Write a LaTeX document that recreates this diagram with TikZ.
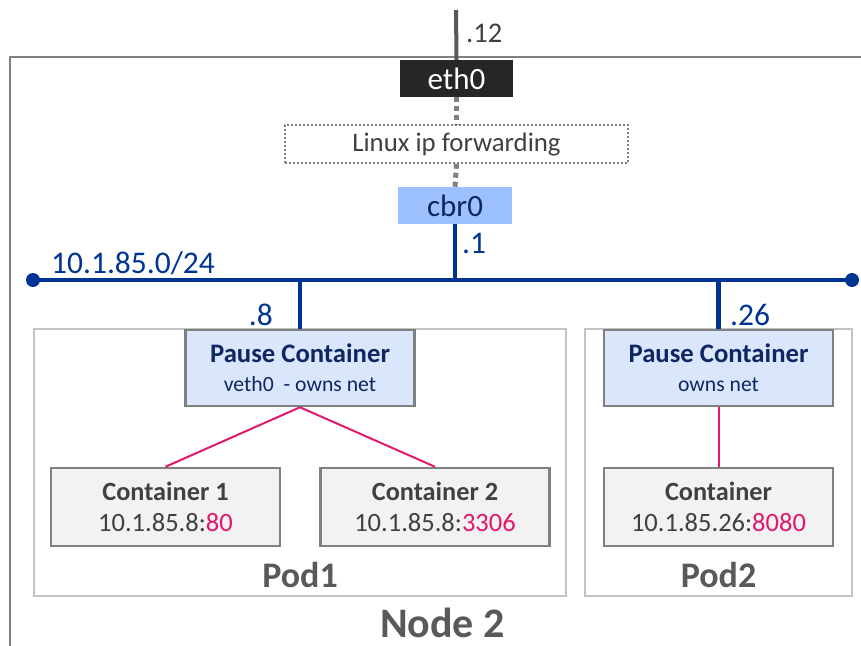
\documentclass[tikz,border=0pt]{standalone}
\usepackage{fontspec}
\setmainfont{Carlito}
\newcommand{\fsz}[1]{\fontsize{#1}{#1}\selectfont}
\newcommand{\port}[1]{\textcolor{portpink}{#1}}
\definecolor{netblue}{RGB}{0,52,148}
\definecolor{navytext}{RGB}{14,38,98}
\definecolor{portpink}{RGB}{226,24,110}
\definecolor{cbrfill}{RGB}{157,192,255}
\definecolor{pausefill}{RGB}{218,230,252}
\definecolor{boxgray}{RGB}{128,128,128}
\definecolor{podgray}{RGB}{195,195,195}
\definecolor{textgray}{RGB}{64,64,64}
\definecolor{ethblack}{RGB}{38,38,38}
\begin{document}
\begin{tikzpicture}[
    x=1pt, y=-1pt,
    every node/.style={inner sep=0pt, text=textgray},
    hostif/.style={rectangle, fill=ethblack, minimum width=113pt, minimum height=37pt, text=white, font=\fsz{31}},
    fwdbox/.style={rectangle, draw=gray, line width=1.5pt, dash pattern=on 2pt off 2pt, minimum width=343pt, minimum height=38pt, font=\fsz{26.8}},
    bridge/.style={rectangle, fill=cbrfill, minimum width=114pt, minimum height=37pt, text=navytext, font=\fsz{31}},
    pod/.style={rectangle, draw=podgray, line width=2pt, minimum height=267pt},
    pause/.style={rectangle, draw=boxgray, line width=2.5pt, fill=pausefill, minimum width=229pt, minimum height=76pt, align=center, text=navytext, font=\bfseries\fsz{26.7}},
    cont/.style={rectangle, draw=boxgray, line width=2.5pt, fill=black!5, minimum width=229pt, minimum height=78pt, align=center, font=\bfseries\fsz{26.3}},
    iplabel/.style={text=netblue, font=\fsz{31.5}},
    podname/.style={font=\bfseries\fsz{36}, text=black!65},
    uplink/.style={draw=black!65, line width=4pt},
    fwd/.style={draw=gray, line width=5pt, dash pattern=on 5pt off 4pt},
    bus/.style={draw=netblue, line width=4.5pt},
    veth/.style={draw=portpink, line width=2pt}
    ]
    \useasboundingbox (0,0) rectangle (861,645);
    \clip (0,0) rectangle (861,645);
    \draw[boxgray, line width=2pt] (10,57) rectangle (900,700); % the host
    \coordinate (uplinktop) at (456,10);
    \coordinate (busL) at (33,280);
    \coordinate (busR) at (852,280);

    \node[hostif] (eth0) at (456.5,78.5) {eth0};
    \node[fwdbox] (fwd) at (456.5,144) {Linux ip forwarding};
    \node[bridge] (cbr0) at (455,205.5) {cbr0};

    \node[pod, minimum width=532pt] (pod1) at (300,462.5) {};
    \node[pod, minimum width=267pt] (pod2) at (718.5,462.5) {};
    \node[podname] (pod1name) at (300,575) {Pod1};
    \node[podname] (pod2name) at (718.5,575) {Pod2};

    \node[pause] (pause1) at (300,368) {Pause Container\\[2pt] \mdseries\fsz{21.7}veth0 \ - owns net};
    \node[pause] (pause2) at (718.5,368) {Pause Container\\[2pt] \mdseries\fsz{21.7}owns net};

    \node[cont] (c1) at (165.5,507) {Container 1\\[5pt] \mdseries\fsz{26.5}10.1.85.8:\port{80}};
    \node[cont] (c2) at (435,507) {Container 2\\[5pt] \mdseries\fsz{26.5}10.1.85.8:\port{3306}};
    \node[cont] (c3) at (718.5,507) {Container\\[5pt] \mdseries\fsz{26.5}10.1.85.26:\port{8080}};

    \node[podname, font=\bfseries\fsz{42}] (hostname) at (442.5,623) {Node 2};

    \node[iplabel, text=textgray, font=\fsz{28.5}, anchor=west] (ip12) at (466,33) {.12};
    \node[iplabel, anchor=west] (ip1) at (462,243) {.1};
    \node[iplabel, anchor=west] (subnet) at (51,263) {10.1.85.0/24};
    \node[iplabel, anchor=east] (ip8) at (273,315) {.8};
    \node[iplabel, anchor=west] (ip26) at (730,315) {.26};

    \draw[uplink] (uplinktop) -- (eth0.north);
    \draw[fwd] (eth0.south) -- (fwd.north);
    \draw[fwd] (fwd.south) -- (cbr0.north);
    \draw[bus] (busL) -- (busR);
    \fill[netblue] (busL) circle (7) (busR) circle (7);
    \draw[bus] (cbr0.south) -- (cbr0.south |- busL);
    \draw[bus] (pause1.north |- busL) -- (pause1.north);
    \draw[bus] (pause2.north |- busL) -- (pause2.north);
    \draw[veth] (pause1.south) -- (c1.north);
    \draw[veth] (pause1.south) -- (c2.north);
    \draw[veth] (pause2.south) -- (c3.north);
\end{tikzpicture}
\end{document}
